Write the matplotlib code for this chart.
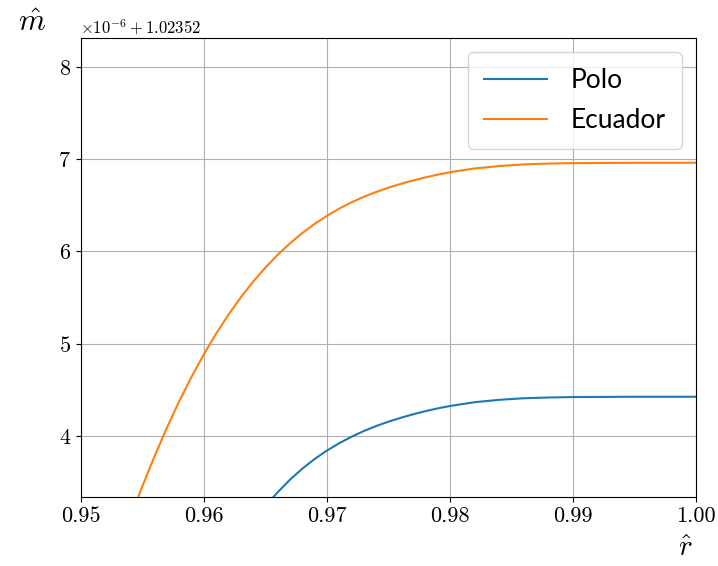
import numpy as np
import matplotlib
matplotlib.use("Agg")
import matplotlib.pyplot as plt
from matplotlib.ticker import ScalarFormatter

plt.rcParams['font.family'] = 'serif'
plt.rcParams['font.serif'] = ['cmr10']
plt.rcParams['mathtext.fontset'] = 'cm'
plt.rcParams['axes.unicode_minus'] = False
plt.rcParams['axes.formatter.use_mathtext'] = True

# valores, m = 1.02352 + v*1e-6
OFFSET = 1.02352
r_ecuador = [0.9545, 0.9550, 0.9560, 0.9570, 0.9580, 0.9590, 0.9600, 0.9610,
             0.9620, 0.9630, 0.9640, 0.9650, 0.9660, 0.9670, 0.9680, 0.9690,
             0.9700, 0.9710, 0.9720, 0.9730, 0.9740, 0.9750, 0.9760, 0.9770,
             0.9780, 0.9790, 0.9800, 0.9820, 0.9840, 0.9860, 0.9880, 0.9900,
             0.9950, 1.0000]
v_ecuador = [3.284, 3.456, 3.785, 4.093, 4.379, 4.643, 4.887, 5.111,
             5.316, 5.503, 5.673, 5.826, 5.965, 6.089, 6.200, 6.299,
             6.387, 6.465, 6.533, 6.593, 6.645, 6.692, 6.733, 6.770,
             6.803, 6.833, 6.860, 6.900, 6.926, 6.944, 6.953, 6.958,
             6.961, 6.962]
r_polo = [0.9655, 0.9660, 0.9670, 0.9680, 0.9690, 0.9700, 0.9710, 0.9720,
          0.9730, 0.9740, 0.9750, 0.9760, 0.9770, 0.9780, 0.9790, 0.9800,
          0.9820, 0.9840, 0.9860, 0.9880, 0.9900, 0.9950, 1.0000]
v_polo = [3.316, 3.390, 3.526, 3.645, 3.750, 3.841, 3.921, 3.991,
          4.053, 4.107, 4.154, 4.196, 4.234, 4.268, 4.298, 4.324,
          4.365, 4.391, 4.408, 4.416, 4.421, 4.424, 4.424]

m_ecuador = OFFSET + np.array(v_ecuador) * 1e-6
m_polo = OFFSET + np.array(v_polo) * 1e-6

fig = plt.figure(figsize=(7.18, 5.66), dpi=100)
ax = fig.add_axes([0.1128, 0.1219, 0.8566, 0.811])

ax.plot(r_polo, m_polo, color='#1f77b4', lw=1.5, label='Polo')
ax.plot(r_ecuador, m_ecuador, color='#ff7f0e', lw=1.5, label='Ecuador')

ax.set_xlim(0.95, 1.0)
ax.set_ylim(OFFSET + 3.337e-6, OFFSET + 8.315e-6)
ax.set_yticks(OFFSET + np.array([4, 5, 6, 7, 8]) * 1e-6)

fmt = ScalarFormatter(useOffset=OFFSET, useMathText=True)
ax.yaxis.set_major_formatter(fmt)
ax.yaxis.get_offset_text().set_visible(False)
ax.set_xticks([0.95, 0.96, 0.97, 0.98, 0.99, 1.00])
ax.set_xticklabels(['0.95', '0.96', '0.97', '0.98', '0.99', '1.00'])
ax.tick_params(labelsize=16)

ax.grid(True)
ax.set_axisbelow(True)

fig.text(0.045, 0.958, r'$\hat{m}$', fontsize=22, ha='center', va='center')
fig.text(0.112, 0.952, r'$\times10^{-6} + 1.02352$', fontsize=12, ha='left', va='center')
fig.text(0.955, 0.03, r'$\hat{r}$', fontsize=21, ha='center', va='center')

leg = ax.legend(loc='upper right', prop={'family': 'Lato', 'size': 19},
                handlelength=2.4, handletextpad=0.9, borderpad=0.6,
                labelspacing=0.55, borderaxespad=0.55)

fig.savefig('out.png', dpi=100)
